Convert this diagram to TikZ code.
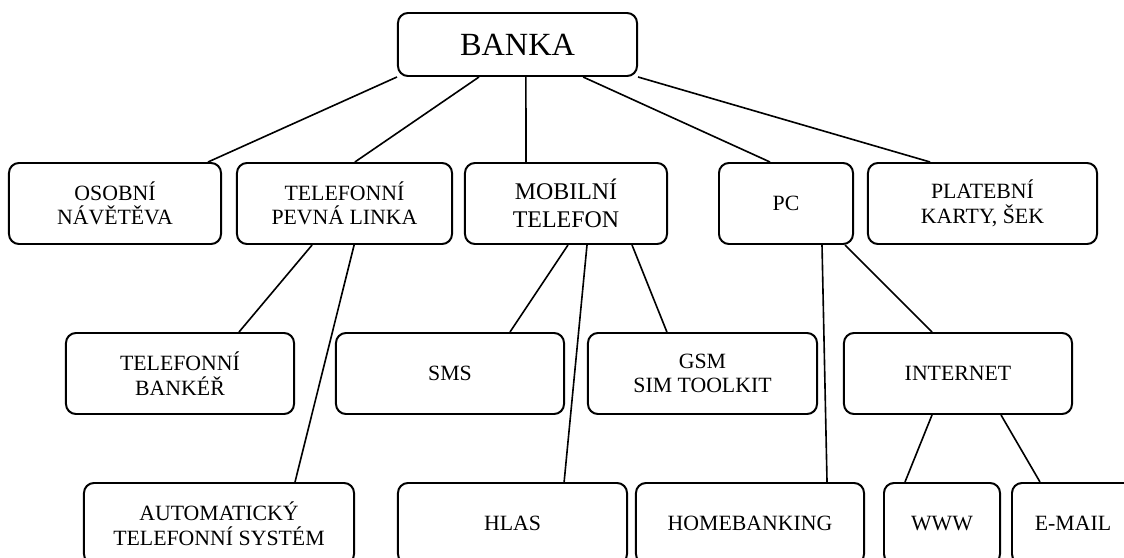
\documentclass[tikz,border=0pt]{standalone}
\usepackage{fontspec}
\setmainfont{Liberation Serif}
\usepackage{tikz}
\usetikzlibrary{positioning}

\begin{document}
\begin{tikzpicture}[
    x=0.025cm, y=-0.025cm,
    bx/.style={draw, line width=1.4pt, rounded corners=0.25cm,
               minimum width=#1, minimum height=2.025cm, inner sep=0pt,
               align=center, font=\fontsize{15.5}{17.5}\selectfont},
    ln/.style={line width=1.15pt},
]
    \clip (0, 0) rectangle (1124, 558);

    \node[bx=5.975cm, minimum height=1.575cm, font=\fontsize{23}{27}\selectfont]
        (banka) at (517.5, 44.5) {BANKA};

    % first row
    \node[bx=5.3cm] (osobni) at (115, 203.5) {OSOBNÍ\\NÁVĚTĚVA};
    \node[bx=5.375cm] (pevna) at (344.5, 203.5) {TELEFONNÍ\\PEVNÁ LINKA};
    \node[bx=5.05cm, font=\fontsize{17}{20}\selectfont]
        (mobil) at (566, 203.5) {MOBILNÍ\\TELEFON};
    \node[bx=3.35cm] (pc) at (786, 203.5) {PC};
    \node[bx=5.725cm] (karty) at (982.5, 203.5) {PLATEBNÍ\\KARTY, ŠEK};

    % second row
    \node[bx=5.7cm] (bankeer) at (180, 373.5) {TELEFONNÍ\\BANKÉŘ};
    \node[bx=5.7cm] (sms) at (450, 373.5) {SMS};
    \node[bx=5.725cm] (gsm) at (702.5, 373.5) {GSM\\SIM TOOLKIT};
    \node[bx=5.7cm] (internet) at (958, 373.5) {INTERNET};

    % third row
    \node[bx=6.75cm] (auto) at (219, 523.5) {AUTOMATICKÝ\\TELEFONNÍ SYSTÉM};
    \node[bx=5.725cm] (hlas) at (512.5, 523.5) {HLAS};
    \node[bx=5.7cm] (homeb) at (750, 523.5) {HOMEBANKING};
    \node[bx=2.9cm] (www) at (942, 523.5) {WWW};
    \node[bx=3.05cm] (email) at (1073, 523.5) {E-MAIL};

    % from the bank
    \draw[ln] (banka.south west) -- ([xshift=-0.35cm]osobni.north east);
    \draw[ln] ([xshift=2.05cm]banka.south west) -- ([xshift=0.26cm]pevna.north);
    \draw[ln] ([xshift=0.21cm]banka.south) -- ([xshift=-1cm]mobil.north);
    \draw[ln] ([xshift=1.64cm]banka.south) -- ([xshift=-0.4cm]pc.north);
    \draw[ln] (banka.south east) -- ([xshift=-1.31cm]karty.north);

    % channels
    \draw[ln] ([xshift=-0.81cm]pevna.south) -- ([xshift=1.475cm]bankeer.north);
    \draw[ln] ([xshift=0.24cm]pevna.south) -- ([xshift=1.9cm]auto.north);
    \draw[ln] ([xshift=0.05cm]mobil.south) -- ([xshift=1.5cm]sms.north);
    \draw[ln] ([xshift=0.525cm]mobil.south) -- ([xshift=1.29cm]hlas.north);
    \draw[ln] ([xshift=1.65cm]mobil.south) -- ([xshift=-0.89cm]gsm.north);
    \draw[ln] ([xshift=0.9cm]pc.south) -- ([xshift=1.925cm]homeb.north);
    \draw[ln] ([xshift=1.475cm]pc.south) -- ([xshift=-0.65cm]internet.north);
    \draw[ln] ([xshift=-0.65cm]internet.south) -- ([xshift=-0.925cm]www.north);
    \draw[ln] ([xshift=1.075cm]internet.south) -- ([xshift=-0.825cm]email.north);
\end{tikzpicture}
\end{document}
